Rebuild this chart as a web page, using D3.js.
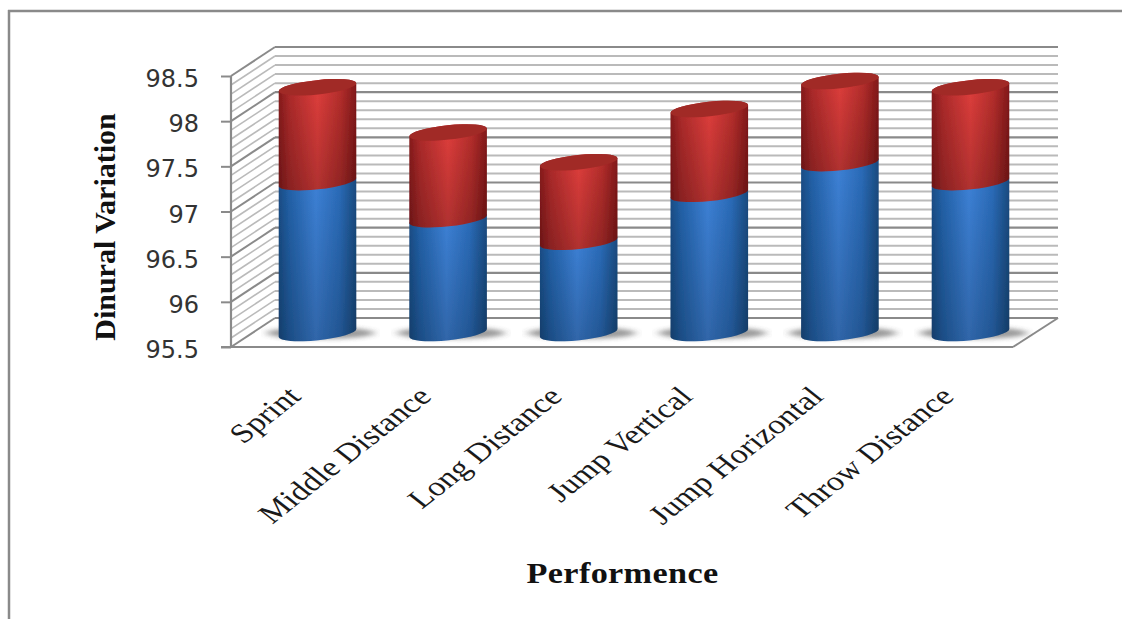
<!DOCTYPE html>
<html>
<head>
<meta charset="utf-8">
<script src="https://cdn.jsdelivr.net/npm/d3@7"></script>
<style>
html,body{margin:0;padding:0;background:#fff;overflow:hidden}
svg{display:block}
</style>
</head>
<body>
<svg id="chart" width="1122" height="619"></svg>
<script>
const categories = ["Sprint","Middle Distance","Long Distance","Jump Vertical","Jump Horizontal","Throw Distance"];
const blueValues = [97.17,96.76,96.51,97.04,97.38,97.17];
const redValues = [1.05,0.96,0.88,0.94,0.91,1.05];
const majorTicks = [95.5,96,96.5,97,97.5,98,98.5];
const minorTicks = d3.range(0,31).map(i => 95.5 + i*0.1);

const svg = d3.select("#chart");
const defs = svg.append("defs");

const W = {left:231, right:1013, top:76, bottom:347, dx:44, dy:-29};
const y = d3.scaleLinear().domain([95.5,98.5]).range([W.bottom,W.top]);
const x = d3.scalePoint().domain(categories).range([317.5,970.5]);
const barDepthY = v => y(v) - 14;

function sideGradient(id, stops){
  const g = defs.append("linearGradient").attr("id",id).attr("x1",0).attr("x2",1).attr("y1",0).attr("y2",0);
  stops.forEach(s => g.append("stop").attr("offset",s[0]).attr("stop-color",s[1]));
}
sideGradient("blueBody",[[0,"#194c84"],[0.14,"#2260a6"],[0.48,"#3c7fd3"],[0.78,"#2a6ab6"],[1,"#194a7e"]]);
sideGradient("redBody",[[0,"#851a1b"],[0.14,"#ab2a2a"],[0.5,"#dc3d3b"],[0.8,"#b22d2b"],[1,"#801819"]]);

const fade = defs.append("linearGradient").attr("id","lowerFade").attr("x1",0).attr("x2",0).attr("y1",0).attr("y2",1);
fade.append("stop").attr("offset",0.1).attr("stop-color","#000").attr("stop-opacity",0);
fade.append("stop").attr("offset",1).attr("stop-color","#000").attr("stop-opacity",0.2);

defs.append("filter").attr("id","soft").attr("x","-30%").attr("y","-100%").attr("width","160%").attr("height","300%")
  .append("feGaussianBlur").attr("stdDeviation","4 2");
defs.append("filter").attr("id","edge").attr("x","-5%").attr("y","-5%").attr("width","110%").attr("height","110%")
  .append("feGaussianBlur").attr("stdDeviation",0.6);

// Outer frame: top and left rules only reach the visible area
const frame = svg.append("g").attr("stroke","#8a8a8a").attr("stroke-width",2.5);
frame.append("line").attr("x1",8).attr("x2",1122).attr("y1",11).attr("y2",11);
frame.append("line").attr("x1",9).attr("x2",9).attr("y1",10).attr("y2",619);

// Back wall, side wall and floor rules
const plot = svg.append("g").attr("filter","url(#edge)");
const isMajor = v => Math.abs(((v-95.5)*2) - Math.round((v-95.5)*2)) < 1e-6;
const wall = plot.append("g");
wall.selectAll("line.back").data(minorTicks).join("line").attr("class","back")
  .attr("x1",W.left+W.dx).attr("x2",W.right+W.dx+1)
  .attr("y1",d=>y(d)+W.dy).attr("y2",d=>y(d)+W.dy)
  .attr("stroke",d=>isMajor(d)?"#8a8a8a":"#bababa").attr("stroke-width",d=>isMajor(d)?2.2:2);
wall.selectAll("line.side").data(minorTicks).join("line").attr("class","side")
  .attr("x1",W.left).attr("x2",W.left+W.dx)
  .attr("y1",d=>y(d)).attr("y2",d=>y(d)+W.dy)
  .attr("stroke",d=>isMajor(d)?"#8a8a8a":"#bababa").attr("stroke-width",d=>isMajor(d)?2:1.6);
wall.append("line").attr("x1",W.left).attr("x2",W.left).attr("y1",W.top).attr("y2",W.bottom)
  .attr("stroke","#8a8a8a").attr("stroke-width",2.2);
wall.append("line").attr("x1",W.left-10).attr("x2",W.right).attr("y1",W.bottom).attr("y2",W.bottom)
  .attr("stroke","#8a8a8a").attr("stroke-width",2.2);
wall.append("line").attr("x1",W.right).attr("x2",W.right+W.dx+1).attr("y1",W.bottom).attr("y2",W.bottom+W.dy)
  .attr("stroke","#8a8a8a").attr("stroke-width",2);

// Value axis with its tick marks
const axis = d3.axisLeft(y).tickValues(majorTicks).tickSize(10).tickPadding(22).tickFormat(d3.format("~g"));
const axisG = svg.append("g").attr("transform",`translate(${W.left},0)`).call(axis);
axisG.select(".domain").remove();
axisG.selectAll(".tick line").attr("stroke","#8a8a8a").attr("stroke-width",2);
axisG.selectAll(".tick text").attr("font-family","DejaVu Sans, sans-serif").attr("font-size",24)
  .attr("fill","#333").attr("dy","0.44em");

// Cylinders
const RX = 39, RY = 7.2, TILT = 6;
const rad = TILT*Math.PI/180;
const ex = RX*Math.cos(rad), ey = RX*Math.sin(rad);
function body(cx, yTop, yBot){
  return `M${cx-ex},${yTop+ey} L${cx-ex},${yBot+ey} A${RX},${RY} ${-TILT} 0 0 ${cx+ex},${yBot-ey} L${cx+ex},${yTop-ey} A${RX},${RY} ${-TILT} 0 0 ${cx-ex},${yTop+ey} Z`;
}
const rows = categories.map((c,i)=>({c,blue:blueValues[i],red:redValues[i],cx:x(c)}));

const bars = svg.append("g").selectAll("g").data(rows).join("g").attr("filter","url(#edge)");
bars.append("ellipse").attr("filter","url(#soft)")
  .attr("cx",d=>d.cx+3).attr("cy",y(95.5)-14).attr("rx",RX+15).attr("ry",6)
  .attr("fill","#666").attr("opacity",0.65);
bars.append("path").attr("d",d=>body(d.cx,barDepthY(d.blue),barDepthY(95.5))).attr("fill","url(#blueBody)");
bars.append("path").attr("d",d=>body(d.cx,barDepthY(d.blue),barDepthY(95.5))).attr("fill","url(#lowerFade)");
bars.append("path").attr("d",d=>body(d.cx,barDepthY(d.blue+d.red),barDepthY(d.blue))).attr("fill","url(#redBody)");
bars.append("path").attr("d",d=>body(d.cx,barDepthY(d.blue+d.red),barDepthY(d.blue))).attr("fill","url(#lowerFade)");
bars.append("ellipse")
  .attr("transform",d=>`translate(${d.cx},${barDepthY(d.blue+d.red)}) rotate(${-TILT})`)
  .attr("rx",RX).attr("ry",RY).attr("fill","#a12a27");

// Category labels
svg.append("g").selectAll("text").data(rows).join("text")
  .attr("transform",d=>`translate(${d.cx-15},${W.bottom+51}) scale(1.27,1) rotate(-45)`)
  .attr("text-anchor","end").attr("font-family","Liberation Serif, serif")
  .attr("font-size",27).attr("fill","#1a1a1a").text(d=>d.c);

// Axis titles
svg.append("text").attr("transform","translate(115,227) rotate(-90)").attr("text-anchor","middle")
  .attr("font-family","Liberation Serif, serif").attr("font-weight","bold").attr("font-size",30)
  .attr("fill","#111").text("Dinural Variation");
svg.append("text").attr("transform","translate(622.5,583) scale(1.18,1)").attr("text-anchor","middle")
  .attr("font-family","Liberation Serif, serif").attr("font-weight","bold").attr("font-size",29)
  .attr("letter-spacing",0.3).attr("fill","#111").text("Performence");
</script>
</body>
</html>
